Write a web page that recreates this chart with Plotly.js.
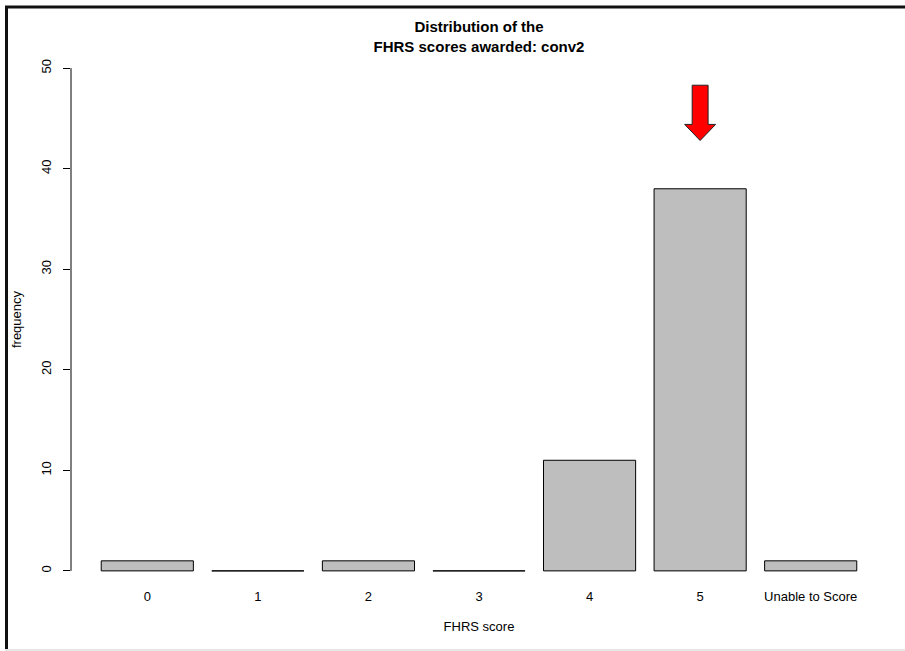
<!DOCTYPE html>
<html>
<head>
<meta charset="utf-8">
<script src="https://cdn.plot.ly/plotly-3.0.1.min.js"></script>
<style>
html,body{margin:0;padding:0;background:#fff;}
#chart{width:905px;height:651px;}
</style>
</head>
<body>
<div id="chart"></div>
<script>
// ---- data ----
const categories = ["0", "1", "2", "3", "4", "5", "Unable to Score"];
const frequencies = [1, 0, 1, 0, 11, 38, 1];
const yTicks = [0, 10, 20, 30, 40, 50];

const idx = categories.map((c, i) => i);
const barWidth = 0.8333;
const font = "Liberation Sans, Arial, sans-serif";

// plot area in pixels
const L = 71, R = 18, T = 48, B = 60, W = 905, H = 651;
const pw = W - L - R, ph = H - T - B;
const px = x => (x - L) / pw;
const py = y => (H - B - y) / ph;

const traces = [{
  type: 'bar',
  x: idx,
  y: frequencies,
  width: barWidth,
  marker: {color: '#bebebe', line: {color: '#000', width: 1}},
  hoverinfo: 'x+y',
  showlegend: false
}];

// arrow above the highest bar
const maxV = Math.max(...frequencies);
const mi = frequencies.indexOf(maxV);
const sw = 0.072, hw = 0.14;
traces.push({
  type: 'scatter', mode: 'lines', fill: 'toself',
  x: [mi - sw, mi + sw, mi + sw, mi + hw, mi, mi - hw, mi - sw, mi - sw],
  y: [maxV + 10.3, maxV + 10.3, maxV + 6.4, maxV + 6.4, maxV + 4.8, maxV + 6.4, maxV + 6.4, maxV + 10.3],
  fillcolor: '#ff0000', line: {color: '#222', width: 1},
  hoverinfo: 'skip', showlegend: false
});

const shapes = [];
// y axis line from first to last tick
shapes.push({type: 'line', xref: 'paper', yref: 'y', x0: 0, x1: 0,
  y0: yTicks[0], y1: yTicks[yTicks.length - 1], line: {color: '#000', width: 1}});
// image frame
shapes.push({type: 'line', xref: 'paper', yref: 'paper', x0: px(5), x1: px(905), y0: py(7), y1: py(7), line: {color: '#111', width: 3}});
shapes.push({type: 'line', xref: 'paper', yref: 'paper', x0: px(6.5), x1: px(6.5), y0: py(6), y1: py(649), line: {color: '#111', width: 3}});
shapes.push({type: 'line', xref: 'paper', yref: 'paper', x0: px(5), x1: px(905), y0: py(650), y1: py(650), line: {color: '#e6e6e6', width: 2}});

const layout = {
  width: W, height: H,
  margin: {l: L, r: R, t: T, b: B},
  paper_bgcolor: '#fff', plot_bgcolor: '#fff',
  font: {family: font, size: 13, color: '#000'},
  title: {
    text: '<b>Distribution of the<br>FHRS scores awarded: conv2</b>',
    font: {family: font, size: 15, color: '#000'},
    xref: 'paper', x: 0.5, xanchor: 'center',
    yref: 'container', y: 1 - 32 / H, yanchor: 'top'
  },
  xaxis: {
    range: [-0.69, 6.69],
    tickmode: 'array', tickvals: idx, ticktext: categories,
    ticks: '', showline: false, showgrid: false, zeroline: false,
    ticklabelstandoff: -4,
    tickfont: {family: font, size: 13, color: '#000'},
    title: {text: 'FHRS score', font: {family: font, size: 13, color: '#000'}, standoff: 18}
  },
  yaxis: {
    range: [-2, 52],
    tickmode: 'array', tickvals: yTicks,
    ticks: 'outside', ticklen: 7, tickcolor: '#000', tickwidth: 1,
    tickangle: -90, ticklabelstandoff: 7,
    showline: false, showgrid: false, zeroline: false,
    tickfont: {family: font, size: 13, color: '#000'},
    title: {text: 'frequency', font: {family: font, size: 13, color: '#000'}, standoff: 14}
  },
  shapes: shapes,
  bargap: 0.1667
};

Plotly.newPlot('chart', traces, layout, {displayModeBar: false, staticPlot: true});
</script>
</body>
</html>
